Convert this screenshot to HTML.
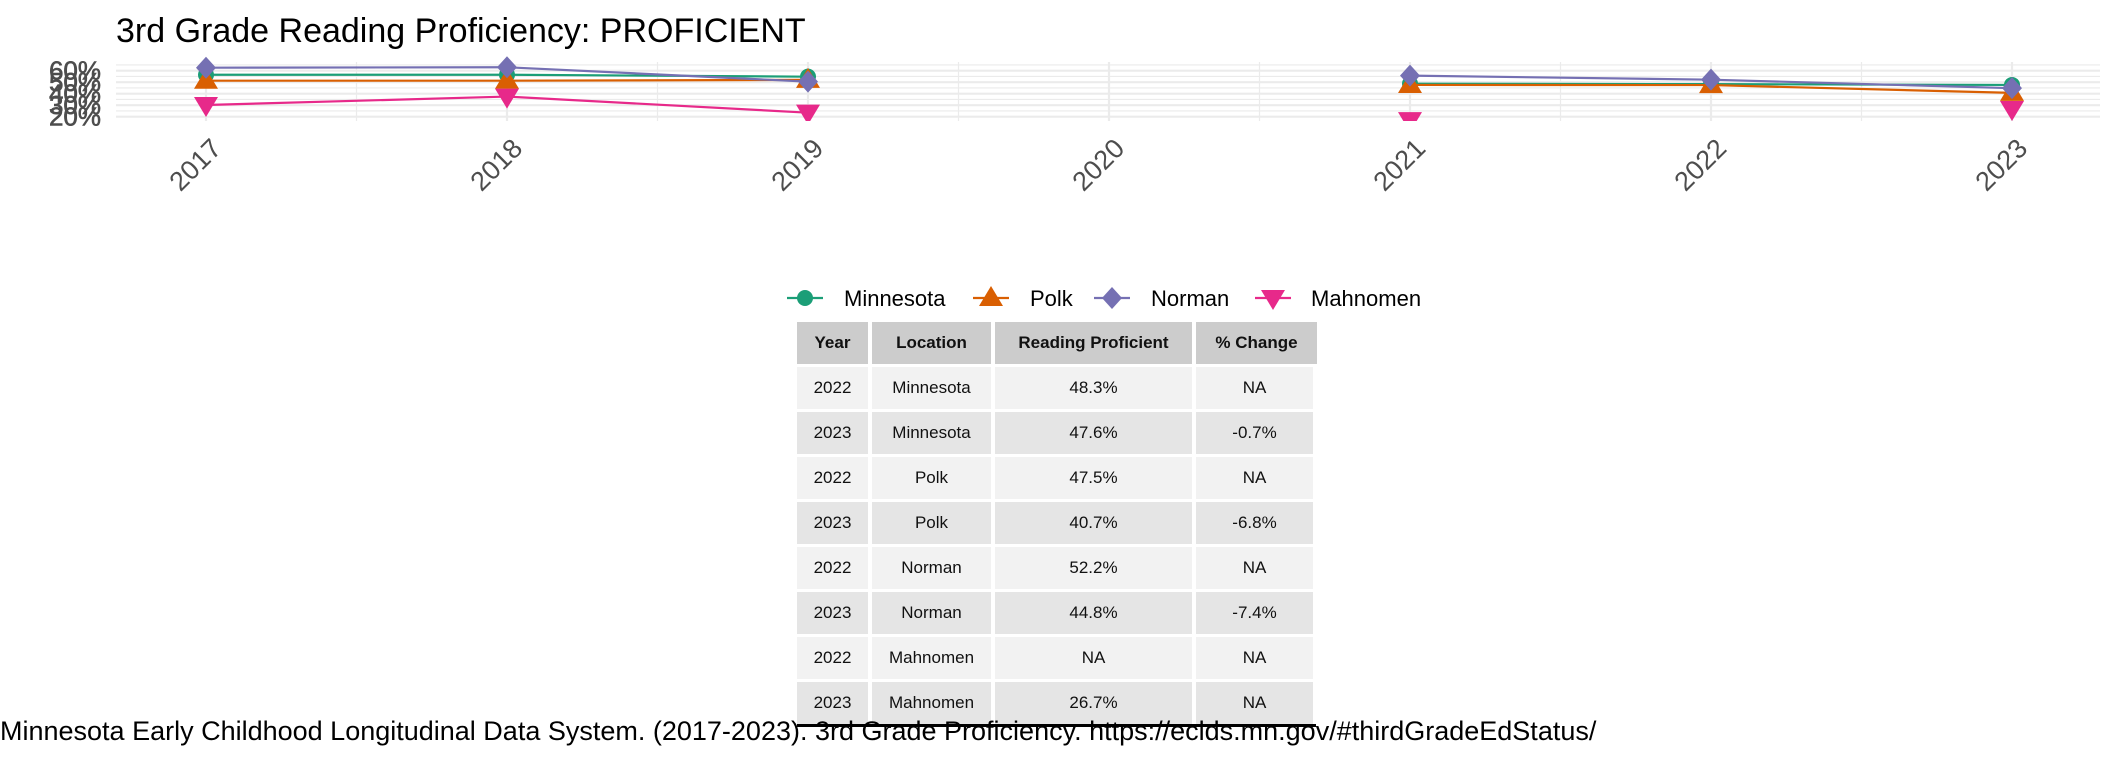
<!DOCTYPE html>
<html><head><meta charset="utf-8"><style>
html,body{margin:0;padding:0;background:#fff;}
body{width:2112px;height:768px;position:relative;overflow:hidden;font-family:"Liberation Sans",Arial,sans-serif;}
svg{position:absolute;left:0;top:0;}
table{position:absolute;left:797px;top:322px;border-collapse:separate;border-spacing:0;font-size:17px;color:#111;}
td,th{height:42px;padding:0 10px;text-align:center;border-right:4px solid #fff;border-bottom:3px solid #fff;white-space:nowrap;}
th{background:#cccccc;font-weight:bold;}
tr.o td{background:#f2f2f2}
tr.e td{background:#e5e5e5}
#caption{position:absolute;left:0;top:716px;font-size:27px;color:#000;white-space:nowrap;}
#rule{position:absolute;left:797px;top:724px;width:519px;height:3px;background:#000;}
</style></head><body>
<svg id="chart" width="2112" height="768"></svg>
<table>
<tr><th style="width:51px">Year</th><th style="width:99px">Location</th><th style="width:177px">Reading Proficient</th><th style="width:101px;border-right:0">% Change</th></tr>
<tr class="o"><td>2022</td><td>Minnesota</td><td>48.3%</td><td>NA</td></tr>
<tr class="e"><td>2023</td><td>Minnesota</td><td>47.6%</td><td>-0.7%</td></tr>
<tr class="o"><td>2022</td><td>Polk</td><td>47.5%</td><td>NA</td></tr>
<tr class="e"><td>2023</td><td>Polk</td><td>40.7%</td><td>-6.8%</td></tr>
<tr class="o"><td>2022</td><td>Norman</td><td>52.2%</td><td>NA</td></tr>
<tr class="e"><td>2023</td><td>Norman</td><td>44.8%</td><td>-7.4%</td></tr>
<tr class="o"><td>2022</td><td>Mahnomen</td><td>NA</td><td>NA</td></tr>
<tr class="e"><td>2023</td><td>Mahnomen</td><td>26.7%</td><td>NA</td></tr>
</table>
<div id="rule"></div>
<div id="caption">Minnesota Early Childhood Longitudinal Data System. (2017-2023). 3rd Grade Proficiency. https://eclds.mn.gov/#thirdGradeEdStatus/</div>
<script>
const years=[2017,2018,2019,2020,2021,2022,2023];
const seriesNames=["Minnesota","Polk","Norman","Mahnomen"];
const minnesota=[56.5,56.5,54.8,null,48.7,48.3,47.6];
const polk=[51.3,51.3,52,null,47.6,47.5,40.7];
const norman=[62.6,63,50.5,null,55.7,52.2,44.8];
const mahnomen=[30.2,37.5,23.5,null,17,null,26.7];
const yTicks=[20,30,40,50,60];
const colors=["#1b9e77","#d95f02","#7570b3","#e7298a"];
const shapes=["circle","tri-up","diamond","tri-down"];
const all=[minnesota,polk,norman,mahnomen];
const NS="http://www.w3.org/2000/svg";
const svg=document.getElementById('chart');
const L=116,R=2100,T=62,B=121;
const x=v=>206+(v-2017)*301;
const y=v=>70.7+(60-v)*1.15;
function mk(t,a,p){const e=document.createElementNS(NS,t);for(const k in a)e.setAttribute(k,a[k]);(p||svg).appendChild(e);return e;}
const title=mk('text',{x:116,y:42,'font-size':34,fill:'#000'});
title.textContent='3rd Grade Reading Proficiency: PROFICIENT';


const grid=mk('g',{});


for(let v=15;v<=65;v+=5){const w=v%10===0?2.2:1.2;if(y(v)<T||y(v)>B)continue;mk('line',{x1:L,x2:R,y1:y(v),y2:y(v),stroke:'#ebebeb','stroke-width':w},grid);}
for(let yy=2016.5;yy<=2023.5;yy+=0.5){const xx=x(yy);if(xx<L||xx>R)continue;mk('line',{x1:xx,x2:xx,y1:T,y2:B,stroke:'#ebebeb','stroke-width':Number.isInteger(yy)?2.2:1.2},grid);}
yTicks.forEach(v=>{const t=mk('text',{x:101,y:y(v)+9,'font-size':26,fill:'#4d4d4d','text-anchor':'end','stroke':'#4d4d4d','stroke-width':0.6});t.textContent=v+'%';

});
years.forEach(v=>{const t=mk('text',{'font-size':27,fill:'#4d4d4d','text-anchor':'end',transform:`translate(${x(v)+17},${150}) rotate(-45)`});t.textContent=v;

});
mk('clipPath',{id:'pc'});mk('rect',{x:L,y:T-12,width:R-L,height:B-T+12},svg.lastChild);
function marker(shape,cx,cy,c,g,s){s=s||1;
 if(shape==='circle')return mk('circle',{cx,cy,r:8*s,fill:c},g);
 if(shape==='tri-up')return mk('polygon',{points:`${cx-12*s},${cy+8*s} ${cx+12*s},${cy+8*s} ${cx},${cy-12*s}`,fill:c},g);
 if(shape==='diamond')return mk('polygon',{points:`${cx},${cy-11*s} ${cx+10*s},${cy} ${cx},${cy+11*s} ${cx-10*s},${cy}`,fill:c},g);
 return mk('polygon',{points:`${cx-12*s},${cy-8*s} ${cx+12*s},${cy-8*s} ${cx},${cy+12*s}`,fill:c},g);}
all.forEach((d,i)=>{const g=mk('g',{'clip-path':'url(#pc)'});
 
 
 for(let k=0;k<d.length-1;k++){ if(d[k]==null||d[k+1]==null)continue;
  mk('line',{x1:x(years[k]),y1:y(d[k]),x2:x(years[k+1]),y2:y(d[k+1]),stroke:colors[i],'stroke-width':2.2},g);}
 d.forEach((v,k)=>{if(v==null)return;const m=marker(shapes[i],x(years[k]),y(v),colors[i],g);
  
  });
});
const lg=mk('g',{});


const lmx=[805,991,1112,1273],ltx=[844,1030,1151,1311];
seriesNames.forEach((n,i)=>{const g=mk('g',{},lg);
 
 
 mk('line',{x1:lmx[i]-18,x2:lmx[i]+18,y1:298,y2:298,stroke:colors[i],'stroke-width':2.2},g);
 marker(shapes[i],lmx[i],298,colors[i],g);
 const t=mk('text',{x:ltx[i],y:306,'font-size':22,fill:'#000'},g);t.textContent=n;});
</script>
</body></html>
